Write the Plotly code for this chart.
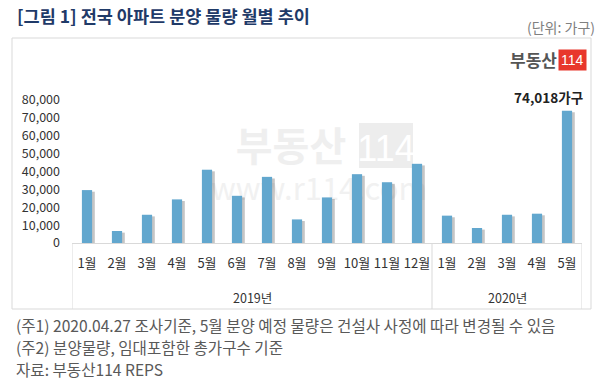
import plotly.graph_objects as go

years = ["2019년"] * 12 + ["2020년"] * 5
months = ["1월", "2월", "3월", "4월", "5월", "6월", "7월", "8월", "9월", "10월", "11월", "12월",
          "1월", "2월", "3월", "4월", "5월"]
supply = [29600, 6700, 15800, 24400, 41000, 26400, 37000, 13200, 25500, 38500, 34000, 44300,
          15300, 8400, 15800, 16400, 74018]
y_ticks = [0, 10000, 20000, 30000, 40000, 50000, 60000, 70000, 80000]

FONT = "Noto Sans CJK KR"
W, H = 600, 379
L, R, T, B = 72, 18, 100, 136
PW, PH = W - L - R, H - T - B

def px(x):
    return (x - L) / PW

def py(y):
    return (H - B - y) / PH

xs = list(range(len(months)))

fig = go.Figure()
# shadow
fig.add_trace(go.Bar(x=[i + 0.09 for i in xs], y=supply, base=[-900] * len(xs), width=0.34,
                     marker=dict(color="rgba(90,90,90,0.35)", line=dict(width=0)),
                     hoverinfo="skip", showlegend=False))
fig.add_trace(go.Bar(x=xs, y=supply, width=0.34,
                     marker=dict(color="#62A7CE", line=dict(width=0)), showlegend=False))

fig.update_layout(
    width=W, height=H, margin=dict(l=L, r=R, t=T, b=B),
    paper_bgcolor="white", plot_bgcolor="rgba(0,0,0,0)",
    barmode="overlay", font=dict(family=FONT, color="#333333"),
    xaxis=dict(range=[-0.5, len(xs) - 0.5], tickvals=xs, ticktext=months, showgrid=False,
               zeroline=False, showline=True, linecolor="#D9D9D9", linewidth=1, ticks="",
               tickfont=dict(size=13, color="#333333"), ticklabelstandoff=8),
    yaxis=dict(range=[0, 80000], tickvals=y_ticks, tickformat=",", showgrid=False,
               zeroline=False, showline=False, ticks="", tickfont=dict(size=12.5, color="#333333"),
               ticklabelstandoff=11),
)

shapes = []
# outer box
shapes.append(dict(type="rect", xref="paper", yref="paper", x0=px(12), x1=px(591), y0=py(309), y1=py(38),
                   line=dict(color="#D9D9D9", width=1), fillcolor="rgba(0,0,0,0)", layer="below"))
# category dividers
for xv in [-0.5, 11.5, len(xs) - 0.5]:
    shapes.append(dict(type="line", xref="x", yref="paper", x0=xv, x1=xv, y0=py(309), y1=0,
                       line=dict(color="#D9D9D9", width=1)))
# watermark
shapes.append(dict(type="rect", xref="paper", yref="paper", x0=px(225), x1=px(357), y0=py(168), y1=py(132),
                   line=dict(width=0), fillcolor="rgba(0,0,0,0)", layer="below",
                   label=dict(text="<b>부동산</b>", font=dict(family=FONT, size=40, color="#EFEFEF"))))
shapes.append(dict(type="rect", xref="paper", yref="paper", x0=px(359), x1=px(413), y0=py(168), y1=py(123),
                   line=dict(width=0), fillcolor="#EDEDED", layer="below",
                   label=dict(text="114", font=dict(family="Liberation Sans Narrow, Liberation Sans", size=36,
                                                    color="white"))))
shapes.append(dict(type="rect", xref="paper", yref="paper", x0=px(225), x1=px(413), y0=py(205), y1=py(178),
                   line=dict(width=0), fillcolor="rgba(0,0,0,0)", layer="below",
                   label=dict(text="www.r114.com", font=dict(family=FONT, size=31, color="#F1F1F1"))))
fig.update_layout(shapes=shapes)

ann = []
ann.append(dict(xref="paper", yref="paper", x=px(15), y=py(15), xanchor="left", yanchor="middle",
                text="<b>[그림 1] 전국 아파트 분양 물량 월별 추이</b>", showarrow=False,
                font=dict(family=FONT, size=17.5, color="#1F3A68")))
ann.append(dict(xref="paper", yref="paper", x=px(597), y=py(27), xanchor="right", yanchor="middle",
                text="(단위: 가구)", showarrow=False, font=dict(family=FONT, size=14, color="#808080")))
ann.append(dict(xref="paper", yref="paper", x=px(559), y=py(60), xanchor="right", yanchor="middle",
                text="<b>부동산</b>", showarrow=False, font=dict(family=FONT, size=17, color="#555555")))
ann.append(dict(xref="paper", yref="paper", x=px(572), y=py(60), xanchor="center", yanchor="middle",
                text="114", showarrow=False, bgcolor="#E8372C", borderpad=2,
                font=dict(family="Liberation Sans Narrow, Liberation Sans", size=14, color="white")))
ann.append(dict(xref="x", yref="y", x=len(xs) - 1, y=supply[-1], xanchor="center", yanchor="bottom", yshift=2,
                xshift=-19, text=f"<b>{supply[-1]:,}가구</b>", showarrow=False,
                font=dict(family=FONT, size=13.5, color="#222222")))
ann.append(dict(xref="x", yref="paper", x=5.5, y=py(297), xanchor="center", yanchor="middle",
                text="2019년", showarrow=False, font=dict(family=FONT, size=12.5, color="#333333")))
ann.append(dict(xref="x", yref="paper", x=14, y=py(297), xanchor="center", yanchor="middle",
                text="2020년", showarrow=False, font=dict(family=FONT, size=12.5, color="#333333")))
notes = ["(주1) 2020.04.27 조사기준, 5월 분양 예정 물량은 건설사 사정에 따라 변경될 수 있음",
         "(주2) 분양물량, 임대포함한 총가구수 기준",
         "자료: 부동산114 REPS"]
for i, t in enumerate(notes):
    ann.append(dict(xref="paper", yref="paper", x=px(14), y=py(324.5 + 22 * i), xanchor="left",
                    yanchor="middle", text=t, showarrow=False,
                    font=dict(family=FONT, size=15.6, color="#595959")))
fig.update_layout(annotations=ann)

fig.write_html("out.html", config={"displayModeBar": False},
               post_script="document.body.style.margin='0';")
